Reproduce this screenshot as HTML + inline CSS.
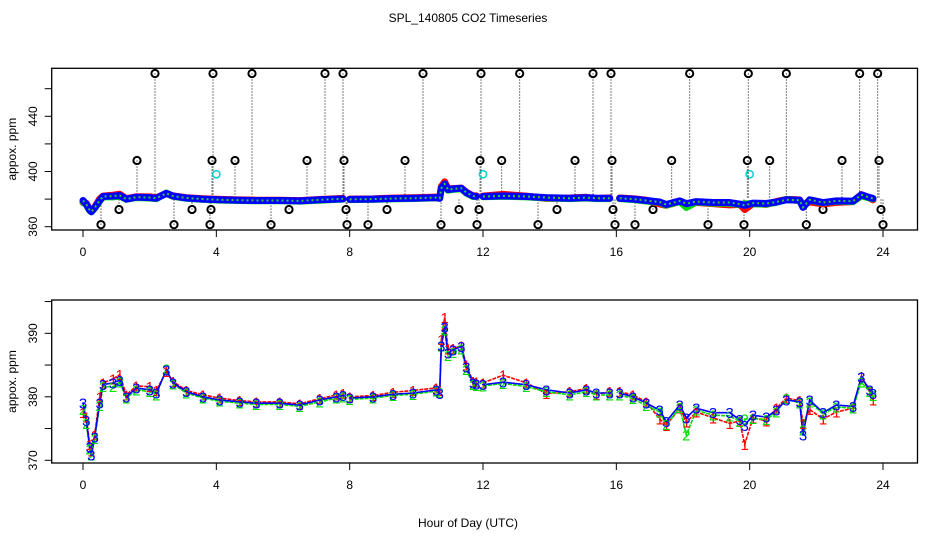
<!DOCTYPE html>
<html><head><meta charset="utf-8"><style>
body{margin:0;background:#fff}
svg{display:block;font-family:"Liberation Sans",sans-serif}
</style></head><body>
<svg id="c" width="936" height="540" viewBox="0 0 936 540">
<rect width="936" height="540" fill="#fff"/>
<text x="468" y="22" text-anchor="middle" font-size="12">SPL_140805  CO2 Timeseries</text>
<text x="468" y="527" text-anchor="middle" font-size="12">Hour of Day (UTC)</text>
<g id="top"></g>
<g id="bot"></g>
</svg>
<script>
const hours=[0,0.1,0.2,0.25,0.35,0.5,0.6,0.9,1.1,1.3,1.6,2.0,2.2,2.5,2.7,3.1,3.6,4.1,4.7,5.2,5.9,6.5,7.1,7.6,7.8,null,8.0,8.7,9.3,9.9,10.6,10.7,10.75,10.85,10.95,11.1,11.35,11.5,11.7,11.8,null,12.0,12.6,13.3,13.9,14.6,15.1,15.4,15.8,null,16.1,16.5,16.9,17.3,17.5,17.9,18.1,18.4,18.9,19.4,19.7,19.85,20.1,20.5,20.8,21.1,21.5,21.6,21.8,22.2,22.6,23.1,23.35,23.6,23.7];
const series1=[377.5,376.8,372.5,371.5,374,380,382.2,382.8,383.5,380.3,381.7,381.6,381,384,382.4,381,380.3,379.8,379.4,379.2,379.2,378.9,379.7,380.3,380.5,null,380,380.2,380.7,381,381.4,381,389,392.5,387.5,387.6,388,385,382.4,382.3,null,382.2,383.4,382.2,380.5,380.8,381.3,380.4,380.8,null,380.8,380.3,379.2,376.5,375.5,378.2,376,377.6,376.7,375.8,376.2,372.5,376.7,376.2,378.2,379.8,379.4,375.8,378,376.5,377.6,378.2,383.2,380.8,379.5];
const series2=[378,375.8,371.8,370.8,373.4,378.6,381.6,381.6,382.3,379.8,381.1,380.8,380.3,384.4,382,380.6,379.8,379.3,379,378.8,378.8,378.5,379.2,379.8,380,null,379.6,379.8,380.2,380.4,380.9,380.7,388,390.5,386.5,387,387.5,384.3,381.9,381.8,null,381.7,382.1,381.6,380.8,380.3,380.8,380.3,380.3,null,380.3,379.7,378.6,377.6,375.6,378.3,374,377.9,377.1,377,376.1,376.5,376.6,376.4,377.6,379.7,379,374.8,379.2,377.3,378.4,378.2,382.3,380.8,380.2];
const series3=[379,376.3,372.1,370.8,373.7,379,381.9,382.2,382.6,380,381.4,381.1,380.6,384.2,382.2,380.8,380,379.5,379.2,379,379,378.7,379.5,380,380.2,null,379.8,380,380.4,380.6,381.1,380.5,388,391,386.9,387.4,387.9,384.7,382.2,382,null,381.9,382.3,381.9,381.1,380.6,381.1,380.6,380.6,null,380.6,380,379,377.9,376.1,378.7,376.7,378.2,377.5,377.5,376.4,375.5,377.1,376.8,377.9,379.5,379.2,374,379.5,377.5,378.7,378.5,383.1,381.1,380.5];
const outlierHours=[2.16,3.9,5.07,7.26,7.8,10.2,11.94,13.1,15.3,15.84,18.2,19.96,21.1,23.3,23.84,
 1.62,3.87,4.56,6.72,7.83,9.66,11.91,12.56,14.76,15.87,17.66,19.93,20.6,22.77,23.88,
 1.08,3.27,3.84,6.18,7.89,9.12,11.28,11.88,14.22,15.9,17.1,22.2,23.94,
 0.54,2.73,3.81,5.64,7.92,8.55,10.74,11.82,13.65,15.96,16.56,18.75,19.83,21.7,24.0];
const outlierValues=[471,471,471,471,471,471,471,471,471,471,471,471,471,471,471,
 408,408,408,408,408,408,408,408,408,408,408,408,408,408,408,
 372.5,372.5,372.5,372.5,372.5,372.5,372.5,372.5,372.5,372.5,372.5,372.5,372.5,
 361.5,361.5,361.5,361.5,361.5,361.5,361.5,361.5,361.5,361.5,361.5,361.5,361.5,361.5,361.5];
const cyanHours=[4,12,20];
const cyanValues=[398,398,398];
const xTicks=[0,4,8,12,16,20,24];
const topYTicks=[360,380,400,420,440,460];
const topYLabels=[360,400,440];
const botYTicks=[370,375,380,385,390,395];
const botYLabels=[370,380,390];

const NS="http://www.w3.org/2000/svg";
function mk(parent,tag,attrs){const e=document.createElementNS(NS,tag);for(const k in attrs)e.setAttribute(k,attrs[k]);parent.appendChild(e);return e;}
const X=h=>83+h*(800/24);
const L=51.7,R=917.5;
const topY=v=>226.7-(v-360)*1.38;
const botY=v=>460.3-(v-370)*6.35;

function panel(g,top,bottom,Y,yTicks,yLabels,name){
  let b=mk(g,'rect',{x:L,y:top,width:R-L,height:bottom-top,fill:'none',stroke:'#000','stroke-width':1.3});
  
  for(const t of xTicks){
    let l=mk(g,'line',{x1:X(t),x2:X(t),y1:bottom,y2:bottom+7,stroke:'#000'});
    
    let tx=mk(g,'text',{x:X(t),y:bottom+26,'text-anchor':'middle','font-size':12});tx.textContent=t;
    
  }
  for(const t of yTicks){
    let l=mk(g,'line',{x1:L-7,x2:L,y1:Y(t),y2:Y(t),stroke:'#000'});
    
  }
  for(const t of yLabels){
    let tx=mk(g,'text',{x:0,y:0,'text-anchor':'middle','font-size':12,transform:`translate(37,${Y(t)}) rotate(-90)`});tx.textContent=t;
    
  }
  let yt=mk(g,'text',{x:0,y:0,'text-anchor':'middle','font-size':12,transform:`translate(16,${(top+bottom)/2}) rotate(-90)`});yt.textContent='appox. ppm';
  
}
function segments(vals,Y){
  const segs=[];let cur=[];
  for(let i=0;i<hours.length;i++){
    if(hours[i]===null||vals[i]===null){if(cur.length)segs.push(cur);cur=[];continue;}
    cur.push([X(hours[i]),Y(vals[i])]);
  }
  if(cur.length)segs.push(cur);return segs;
}
const topG=document.getElementById('top'),botG=document.getElementById('bot');
panel(topG,68.3,230,topY,topYTicks,topYLabels,'top');
panel(botG,300,463,botY,botYTicks,botYLabels,'bottom');

for(let i=0;i<outlierHours.length;i++){
  const x=X(outlierHours[i]),y=topY(outlierValues[i]);
  let l=mk(topG,'line',{x1:x,x2:x,y1:y,y2:topY(380),stroke:'#000','stroke-dasharray':'1 2','stroke-width':1});
  
  let c=mk(topG,'circle',{cx:x,cy:y,r:3.6,fill:'none',stroke:'#000','stroke-width':2});
  
}
for(let i=0;i<cyanHours.length;i++){
  let c=mk(topG,'circle',{cx:X(cyanHours[i]),cy:topY(cyanValues[i]),r:3.6,fill:'none',stroke:'#00d0d0','stroke-width':1.5});
  
}
const cols=['#ff0000','#00dd00','#0000ff'];
const allSeries=[series1,series2,series3];
allSeries.forEach((s,k)=>{
  for(const seg of segments(s,topY)){
    let p=mk(topG,'polyline',{points:seg.map(q=>q.join(',')).join(' '),fill:'none',stroke:cols[k],'stroke-width':7,'stroke-linejoin':'round','stroke-linecap':'round'});
    
  }
});
// inner texture of circle trail
for(const seg of segments(series3,topY)){
  let p=mk(topG,'polyline',{points:seg.map(q=>q.join(',')).join(' '),fill:'none',stroke:'#33cc33','stroke-width':2,'stroke-dasharray':'2 3'});
  
}
allSeries.forEach((s,k)=>{
  for(const seg of segments(s,botY)){
    let p=mk(botG,'polyline',{points:seg.map(q=>q.join(',')).join(' '),fill:'none',stroke:cols[k],'stroke-width':1.6,'stroke-dasharray':k==2?'none':'4 1'});
    
  }
});
allSeries.forEach((s,k)=>{
  for(let i=0;i<hours.length;i++){if(hours[i]===null)continue;
    let t=mk(botG,'text',{x:X(hours[i]),y:botY(s[i])+5.5,'text-anchor':'middle','font-size':15,fill:cols[k]});
    t.textContent=String(k+1);
    
  }
});
</script>
</body></html>
